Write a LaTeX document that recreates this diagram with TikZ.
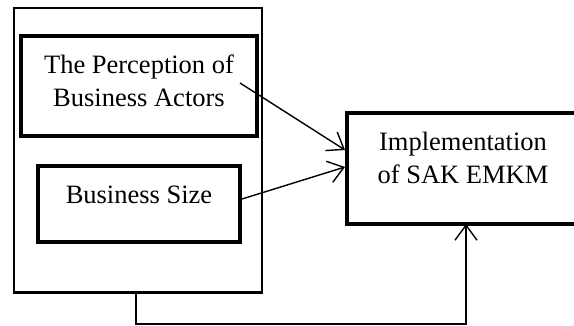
\documentclass[tikz,border=0pt]{standalone}
\usepackage{fontspec}
\setmainfont{Liberation Serif}
\usetikzlibrary{arrows.meta}
\begin{document}
\begin{tikzpicture}[x=1pt,y=-1pt,
  thickbox/.style={draw=black,line width=4pt,minimum width=#1,inner sep=0pt},
  lbl/.style={font=\fontsize{26.5}{33}\selectfont,align=center,inner sep=0pt},
  conn/.style={draw=black,line width=1.4pt,-{Straight Barb[length=15pt,width=22pt,line width=1.4pt]}}]
\useasboundingbox (0,0) rectangle (574,326);
\clip (0,0) rectangle (574,326);
% outer group box
\node[draw=black,line width=1.2pt,minimum width=248pt,minimum height=284pt,inner sep=0pt] (group) at (138,150) {};
\draw[line width=2.2pt] (group.south west) -- (group.south east);
% boxes
\node[thickbox=236pt,minimum height=100pt] (perc) at (139,86) {};
\node[thickbox=202pt,minimum height=76pt] (size) at (139,204) {};
\node[thickbox=233pt,minimum height=111pt] (impl) at (463.5,168.5) {};
% texts
\node[lbl] (percT) at (139,81) {The Perception of\\Business Actors};
\node[lbl] (sizeT) at (139,195) {Business Size};
\node[lbl] (implT) at (463,157.5) {Implementation\\of SAK EMKM};
% connectors
\coordinate (p1) at (240,83);
\coordinate (p2) at (size.east);
\draw[conn] (p1) -- (impl.west |- 0,150);
\draw[conn] (size.east |- 0,199) -- (impl.west |- 0,167);
\coordinate (g1) at (136,292);
\draw[conn] (g1) -- (136,324) -- (466,324) -- (466,224);
\end{tikzpicture}
\end{document}
